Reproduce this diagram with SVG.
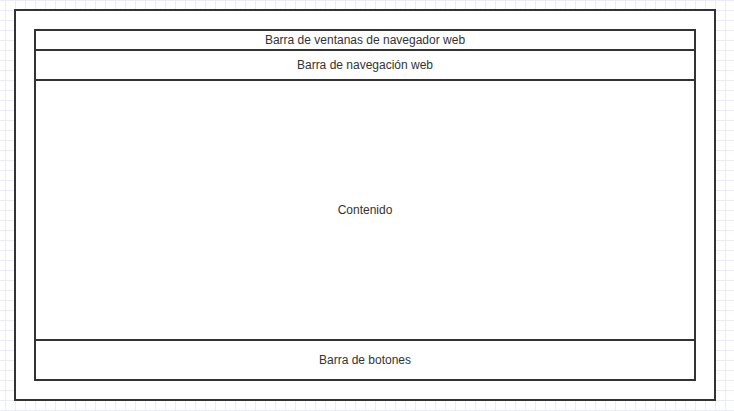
<svg xmlns="http://www.w3.org/2000/svg" width="734" height="411" viewBox="0 0 734 411">
<defs>
<pattern id="grid" x="5" y="0" width="20" height="20" patternUnits="userSpaceOnUse">
<rect width="20" height="20" fill="#ffffff"/>
<path d="M0.5 0V20M10.5 0V20" stroke="#ececf8" stroke-width="1"/>
<path d="M0 0.5H20M0 10.5H20" stroke="#ececf8" stroke-width="1"/>
</pattern>
<style>
.box{fill:#ffffff;stroke:#333333;stroke-width:2}
.lbl{font-family:"Liberation Sans",Arial,sans-serif;font-size:12px;fill:#333333;text-anchor:middle;dominant-baseline:central}
</style>
</defs>
<rect width="734" height="411" fill="url(#grid)"/>
<g id="window">
<rect class="box" x="15" y="10" width="700" height="390"/>
</g>
<g id="barra-ventanas">
<rect class="box" x="35" y="30" width="660" height="20"/>
<text class="lbl" x="365" y="40">Barra de ventanas de navegador web</text>
</g>
<g id="barra-navegacion">
<rect class="box" x="35" y="50" width="660" height="30"/>
<text class="lbl" x="365" y="65">Barra de navegación web</text>
</g>
<g id="contenido">
<rect class="box" x="35" y="80" width="660" height="260"/>
<text class="lbl" x="365" y="210">Contenido</text>
</g>
<g id="barra-botones">
<rect class="box" x="35" y="340" width="660" height="40"/>
<text class="lbl" x="365" y="360">Barra de botones</text>
</g>
<g id="connectors"/>
</svg>
